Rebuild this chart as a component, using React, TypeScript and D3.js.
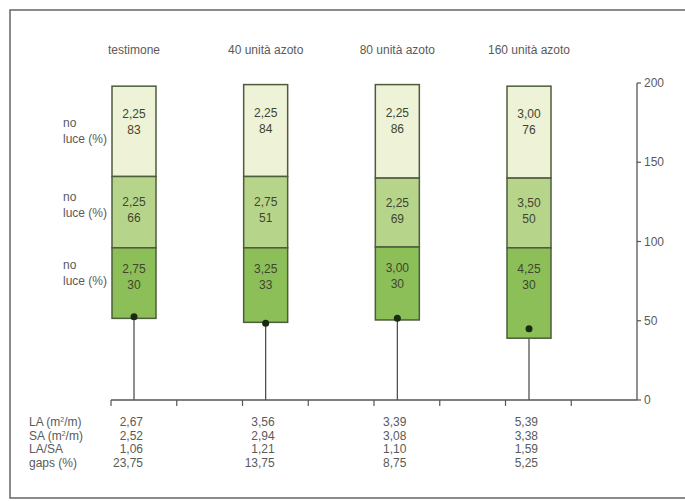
import React from "react";
import * as d3 from "d3";

const categories = ["testimone", "40 unità azoto", "80 unità azoto", "160 unità azoto"];
const topLayerTop = [198, 199, 199, 198];
const midLayerTop = [141, 141, 140, 140];
const lowLayerTop = [96, 96, 96.5, 96];
const canopyBase = [51.5, 49, 50.5, 39];
const dotHeight = [52.5, 48.5, 51.5, 45];
const laiTop = ["2,25", "2,25", "2,25", "3,00"];
const lightTop = ["83", "84", "86", "76"];
const laiMid = ["2,25", "2,75", "2,25", "3,50"];
const lightMid = ["66", "51", "69", "50"];
const laiLow = ["2,75", "3,25", "3,00", "4,25"];
const lightLow = ["30", "33", "30", "30"];
const rowLabels = ["LA (m²/m)", "SA (m²/m)", "LA/SA", "gaps (%)"];
const rowLA = ["2,67", "3,56", "3,39", "5,39"];
const rowSA = ["2,52", "2,94", "3,08", "3,38"];
const rowLASA = ["1,06", "1,21", "1,10", "1,59"];
const rowGaps = ["23,75", "13,75", "8,75", "5,25"];
const yTicks = [0, 50, 100, 150, 200];
const xTicks = [0, 1, 2, 3, 4, 5, 6, 7];

const W = 685, H = 501;
const font = "'Liberation Sans', Arial, sans-serif";
const textCol = "#5a5a5a";

export default function App() {
  const y = d3.scaleLinear().domain([0, 200]).range([400, 83]);
  const x = d3.scalePoint<string>().domain(categories).range([134, 529]);
  const xt = d3.scaleLinear().domain([0, 8]).range([111, 637]);
  const barW = 44;
  const axisX = 637;
  const layers = [
    { top: topLayerTop, bottom: midLayerTop, lai: laiTop, light: lightTop, fill: "#eef2d6", off: 28, lab: 53 },
    { top: midLayerTop, bottom: lowLayerTop, lai: laiMid, light: lightMid, fill: "#b7d58a", off: 25, lab: 36.5 },
    { top: lowLayerTop, bottom: canopyBase, lai: laiLow, light: lightLow, fill: "#8dbf58", off: 21, lab: 33 },
  ];
  const rows = [rowLA, rowSA, rowLASA, rowGaps];
  return (
    <svg width={W} height={H} style={{ position: "absolute", left: 0, top: 0, background: "#fff" }} fontFamily={font}>
      <rect x={10} y={10} width={700} height={488} fill="none" stroke="#666" strokeWidth={1.5} />
      {categories.map((c) => (
        <text key={c} x={x(c)} y={54} textAnchor="middle" fontSize={12} fill={textCol}>{c}</text>
      ))}
      {/* stems */}
      {categories.map((c, i) => (
        <line key={"s" + c} x1={x(c)} x2={x(c)} y1={y(dotHeight[i])} y2={y(0)} stroke="#444" strokeWidth={1.2} />
      ))}
      {/* bars */}
      {layers.map((L, li) =>
        categories.map((c, i) => {
          const cx = x(c)!;
          const yt = y(L.top[i]);
          const yb = y(L.bottom[i]);
          return (
            <g key={li + "-" + c}>
              <rect x={cx - barW / 2} y={yt} width={barW} height={yb - yt} fill={L.fill} stroke="#4d5c3c" strokeWidth={1.5} />
              <text x={cx} y={yt + L.off + 4} textAnchor="middle" fontSize={12} fill="#3f4530">{L.lai[i]}</text>
              <text x={cx} y={yt + L.off + 20} textAnchor="middle" fontSize={12} fill="#3f4530">{L.light[i]}</text>
            </g>
          );
        })
      )}
      {/* dots */}
      {categories.map((c, i) => (
        <circle key={"d" + c} cx={x(c)} cy={y(dotHeight[i])} r={3.5} fill="#1b2a12" />
      ))}
      {/* left layer labels */}
      {layers.map((L, li) => {
        const yt = y(L.top[0]);
        return (
          <g key={"lab" + li}>
            <text x={63} y={yt + L.lab - 12} fontSize={12} fill={textCol}>no</text>
            <text x={63} y={yt + L.lab + 4} fontSize={12} fill={textCol}>luce (%)</text>
          </g>
        );
      })}
      {/* x axis */}
      <line x1={xt(0)} x2={axisX} y1={y(0)} y2={y(0)} stroke="#555" strokeWidth={1.3} />
      {xTicks.map((t) => (
        <line key={"xt" + t} x1={xt(t)} x2={xt(t)} y1={y(0)} y2={y(0) + 6} stroke="#555" strokeWidth={1.2} />
      ))}
      {/* y axis */}
      <line x1={axisX} x2={axisX} y1={y(200)} y2={y(0)} stroke="#555" strokeWidth={1.3} />
      {yTicks.map((t) => (
        <g key={"yt" + t}>
          <line x1={axisX} x2={axisX + 4} y1={y(t)} y2={y(t)} stroke="#555" strokeWidth={1.2} />
          <text x={axisX + 7} y={y(t) + 4} fontSize={12} fill={textCol}>{t}</text>
        </g>
      ))}
      {/* table */}
      {rowLabels.map((r, ri) => (
        <text key={r} x={29} y={426 + ri * 13.6} fontSize={12} fill={textCol}>
          {r.includes("²") ? (
            <>
              {r.split("²")[0]}
              <tspan fontSize={7} dy={-4}>2</tspan>
              <tspan dy={4}>{r.split("²")[1]}</tspan>
            </>
          ) : r}
        </text>
      ))}
      {rows.map((row, ri) =>
        categories.map((c, i) => (
          <text key={ri + c} x={x(c)! + 9} y={426 + ri * 13.6} textAnchor="end" fontSize={12} fill={textCol}>{row[i]}</text>
        ))
      )}
    </svg>
  );
}
